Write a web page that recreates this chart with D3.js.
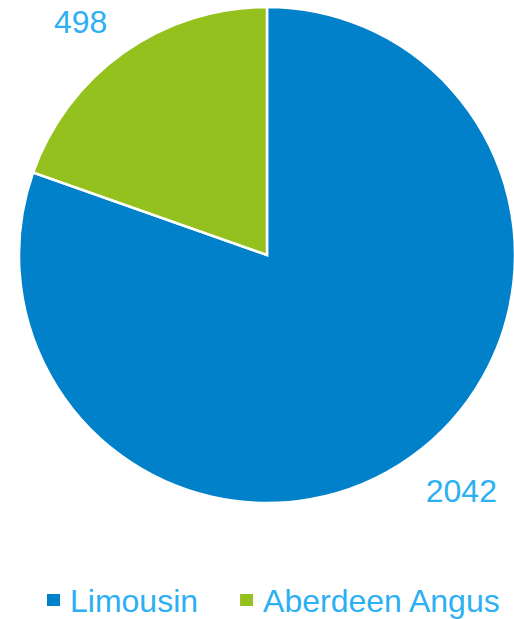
<!DOCTYPE html>
<html>
<head>
<meta charset="utf-8">
<script src="https://cdn.jsdelivr.net/npm/d3@7"></script>
<style>
  html, body { margin: 0; padding: 0; background: #fff; }
  svg { display: block; }
  text { font-family: "Liberation Sans", Arial, sans-serif; }
</style>
</head>
<body>
<svg id="chart" width="514" height="619"></svg>
<script>
// Breed counts
const categories = ["Limousin", "Aberdeen Angus"];
const values = [2042, 498];
const colors = ["#0081c9", "#95c11f"];

const W = 514, H = 619;
const cx = 267, cy = 255, radius = 248;
const labelColor = "#2cb0f3";
const fontSize = 32;

const svg = d3.select("#chart");

const data = categories.map((c, i) => ({ name: c, value: values[i], color: colors[i] }));

const pie = d3.pie().sort(null).value(d => d.value);
const arcs = pie(data);

const arc = d3.arc().innerRadius(0).outerRadius(radius);

const g = svg.append("g").attr("transform", `translate(${cx},${cy})`);

g.selectAll("path.slice")
  .data(arcs)
  .join("path")
  .attr("class", "slice")
  .attr("d", arc)
  .attr("fill", d => d.data.color)
  .attr("stroke", "#fff")
  .attr("stroke-width", 2.5)
  .attr("stroke-linejoin", "miter");

// Value labels outside the pie, around each slice's mid-angle
const labelR = 302, labelShift = -0.066;
const labels = svg.append("g").attr("transform", `translate(${cx + 4},${cy + 1})`);
labels.selectAll("text.value")
  .data(arcs)
  .join("text")
  .attr("class", "value")
  .attr("x", d => labelR * Math.sin((d.startAngle + d.endAngle) / 2 + labelShift))
  .attr("y", d => -labelR * Math.cos((d.startAngle + d.endAngle) / 2 + labelShift))
  .attr("dy", "0.35em")
  .attr("text-anchor", "middle")
  .attr("font-size", fontSize)
  .attr("fill", labelColor)
  .text(d => d.data.value);

// Legend
const legend = svg.append("g");
const items = legend.selectAll("g.item")
  .data(data)
  .join("g")
  .attr("class", "item");

items.append("rect")
  .attr("width", 13)
  .attr("height", 12)
  .attr("y", -18)
  .attr("fill", d => d.color);

items.append("text")
  .attr("x", 23)
  .attr("font-size", fontSize)
  .attr("fill", labelColor)
  .text(d => d.name);

let x = 0;
const gap = 42;
items.each(function () {
  const node = d3.select(this);
  node.attr("transform", `translate(${x},0)`);
  x += this.getBBox().width + gap;
});
const total = x - gap;
legend.attr("transform", `translate(${Math.round(273 - total / 2)},612)`);
</script>
</body>
</html>
